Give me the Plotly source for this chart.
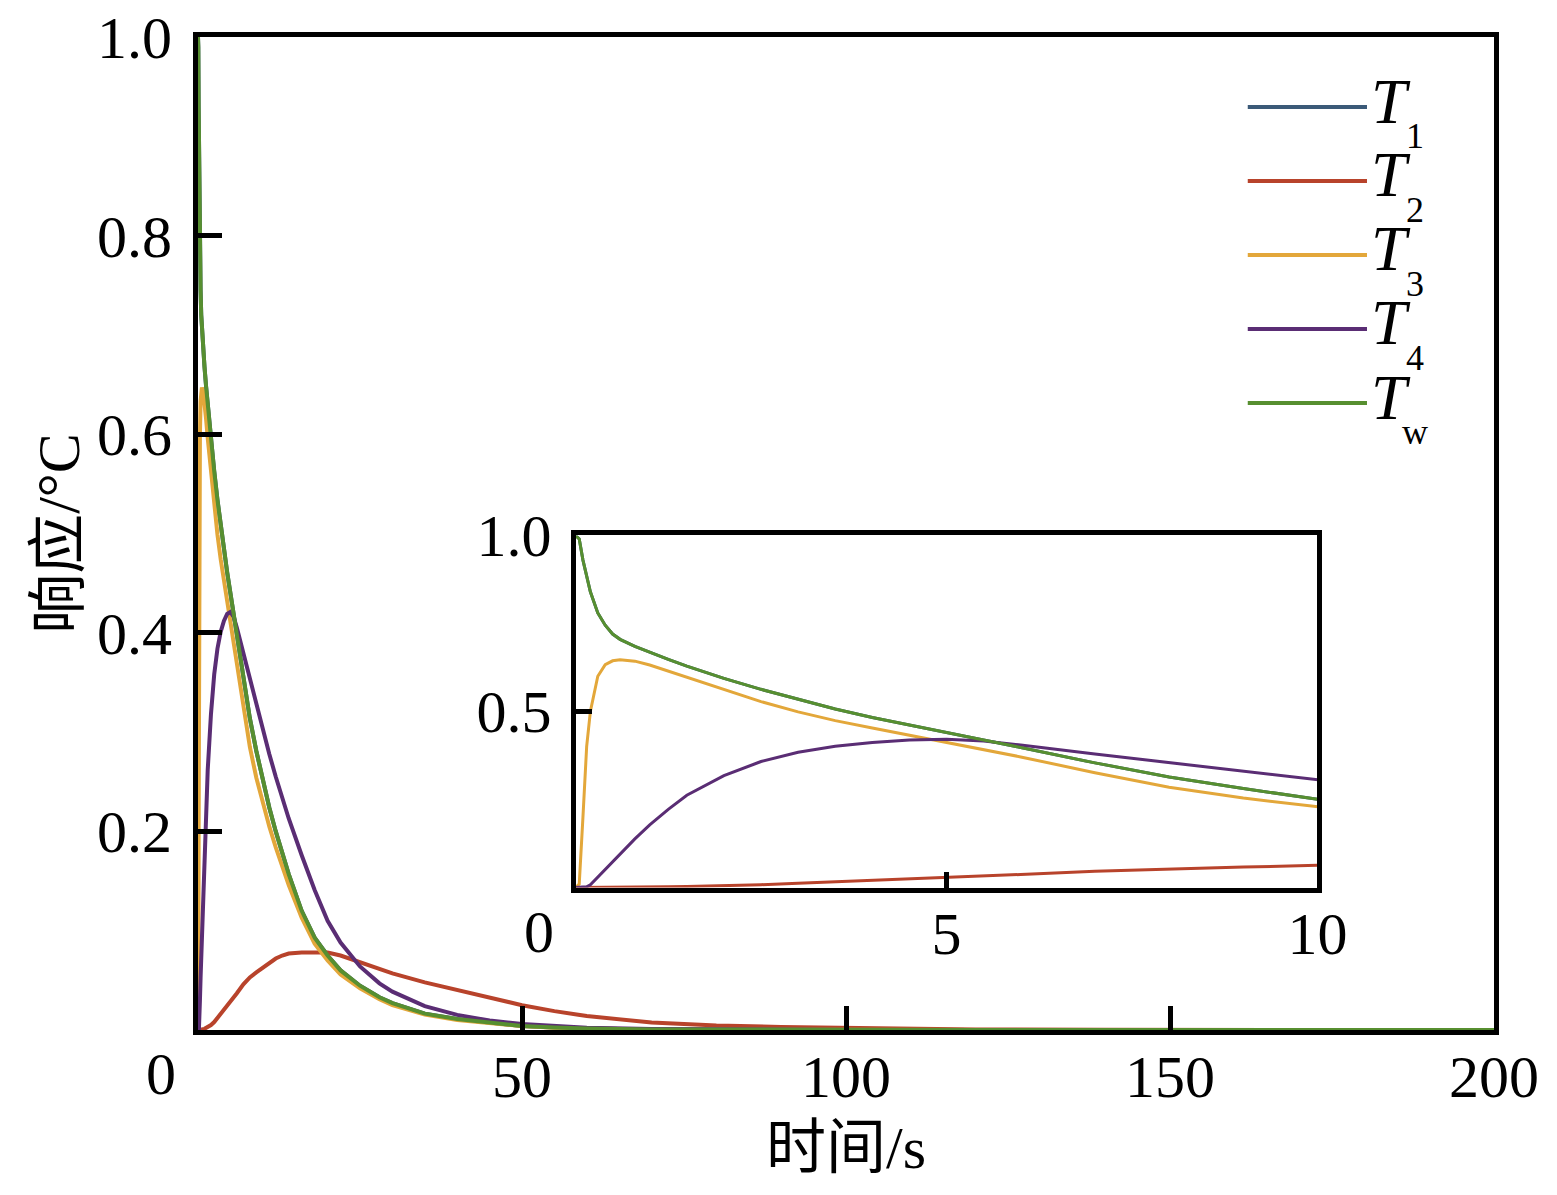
import plotly.graph_objects as go

# --- DONNEES ---
t = [0, 0.05, 0.1, 0.15, 0.2, 0.3, 0.4, 0.5, 0.6, 0.8,
     1.0, 1.25, 1.5, 2.0, 2.5, 3.0, 3.5, 4.0, 4.5, 5.0,
     5.5, 6.0, 7.0, 8.0, 9.0, 10, 11, 12, 13, 14,
     16, 18, 20, 22, 25, 28, 30, 35, 40, 45,
     50, 55, 60, 70, 80, 90, 100, 110, 120, 140,
     160, 180, 200]

Tw = [1.0, 0.99, 0.93, 0.88, 0.84, 0.78, 0.745, 0.72, 0.705, 0.685,
      0.668, 0.648, 0.629, 0.594, 0.563, 0.534, 0.507, 0.483, 0.461, 0.44,
      0.419, 0.398, 0.354, 0.314, 0.281, 0.251, 0.224, 0.2, 0.177, 0.157,
      0.12, 0.093, 0.075, 0.06, 0.0446, 0.033, 0.027, 0.0165, 0.011, 0.007,
      0.004, 0.0025, 0.0015, 0.0006, 0.0003, 0.0001, 0, 0, 0, 0,
      0, 0, 0]

# T1 n'est pas visible : il est confondu avec Tw
T1 = list(Tw)

T2 = [0, 0, 0, 0, 0, 0, 0, 0, 0.0003, 0.0007,
      0.0012, 0.002, 0.003, 0.005, 0.008, 0.012, 0.016, 0.02, 0.024, 0.028,
      0.033, 0.037, 0.046, 0.053, 0.058, 0.063, 0.068, 0.072, 0.075, 0.077,
      0.078, 0.0785, 0.078, 0.075, 0.068, 0.062, 0.057, 0.048, 0.04, 0.033,
      0.025, 0.019, 0.014, 0.0075, 0.0045, 0.003, 0.002, 0.001, 0.0005, 0.0002,
      0.0001, 0, 0]

T3 = [0, 0.01, 0.2, 0.4, 0.5, 0.6, 0.633, 0.644, 0.647, 0.643,
      0.632, 0.615, 0.596, 0.562, 0.528, 0.499, 0.474, 0.453, 0.433, 0.413,
      0.392, 0.371, 0.326, 0.285, 0.254, 0.228, 0.205, 0.184, 0.164, 0.146,
      0.113, 0.087, 0.07, 0.056, 0.042, 0.031, 0.025, 0.0155, 0.01, 0.0065,
      0.004, 0.0023, 0.0014, 0.0005, 0.0002, 0.0001, 0, 0, 0, 0,
      0, 0, 0]

T4 = [0, 0, 0, 0.002, 0.008, 0.03, 0.053, 0.075, 0.097, 0.138,
      0.178, 0.222, 0.262, 0.318, 0.358, 0.384, 0.401, 0.412, 0.419, 0.421,
      0.416, 0.405, 0.379, 0.354, 0.329, 0.302, 0.278, 0.255, 0.234, 0.213,
      0.176, 0.141, 0.11, 0.088, 0.064, 0.047, 0.0386, 0.024, 0.0152, 0.0095,
      0.006, 0.0037, 0.0023, 0.0009, 0.0004, 0.0002, 0.0001, 0, 0, 0,
      0, 0, 0]

series = [("1", T1, "#3b5a78"),
          ("2", T2, "#b8432b"),
          ("3", T3, "#e3a73a"),
          ("4", T4, "#5a2d74"),
          ("w", Tw, "#578f30")]

main_xticks = [50, 100, 150, 200]
main_yticks = [0.2, 0.4, 0.6, 0.8, 1.0]
inset_xticks = [5, 10]
inset_yticks = [0.5, 1.0]

FONT = "Liberation Serif, Noto Sans CJK SC"


def main():
    fig = go.Figure()

    # courbes principales puis encart (memes donnees)
    for sub, vals, col in series:
        fig.add_trace(go.Scatter(x=t, y=vals, mode="lines",
                                 line=dict(color=col, width=4),
                                 name="T" + sub, showlegend=False,
                                 xaxis="x", yaxis="y"))
    for sub, vals, col in series:
        fig.add_trace(go.Scatter(x=t, y=vals, mode="lines",
                                 line=dict(color=col, width=3),
                                 name="T" + sub, showlegend=False,
                                 xaxis="x2", yaxis="y2"))

    axis_common = dict(showline=True, linecolor="black", linewidth=5, mirror=True,
                       ticks="inside", tickcolor="black", tickwidth=5,
                       showgrid=False, zeroline=False, automargin=False,
                       ticklabeloverflow="allow",
                       tickfont=dict(family=FONT, size=60, color="black"))

    # la page a une marge de 8 px : figure de 1541x1179 decalee de 8 px
    fig.update_layout(
        width=1541, height=1179,
        margin=dict(l=190, r=55, t=29, b=157),
        paper_bgcolor="white", plot_bgcolor="white",
        xaxis=dict(axis_common, range=[0, 200], tickvals=main_xticks, ticklen=24,
                   ticklabelstandoff=-10,
                   title=dict(text="时间/s", font=dict(family=FONT, size=60, color="black"),
                              standoff=18)),
        yaxis=dict(axis_common, range=[0, 1], tickvals=main_yticks, ticklen=24,
                   tickformat=".1f", ticklabelstandoff=9,
                   title=dict(text="响应/°C", font=dict(family=FONT, size=60, color="black"),
                              standoff=0)),
        xaxis2=dict(axis_common, range=[0, 10], tickvals=inset_xticks, ticklen=16,
                    ticklabelstandoff=-11,
                    domain=[0.2913, 0.8638], anchor="y2"),
        yaxis2=dict(axis_common, range=[0, 1], tickvals=inset_yticks, ticklen=16,
                    tickformat=".1f", ticklabelstandoff=7,
                    domain=[0.1435, 0.498], anchor="x2"),
    )

    # origine "0" decalee a gauche (principal et encart)
    for xr, yr in (("x", "y"), ("x2", "y2")):
        fig.add_annotation(x=0, y=0, xref=xr, yref=yr, text="0", showarrow=False,
                           xanchor="center", yanchor="middle", xshift=-37, yshift=-44,
                           font=dict(family=FONT, size=60, color="black"))

    # legende dessinee a la main (ligne longue + T italique + indice)
    leg_y = [0.9295, 0.855, 0.7805, 0.706, 0.6314]
    for (sub, vals, col), yy in zip(series, leg_y):
        fig.add_shape(type="line", xref="paper", yref="paper",
                      x0=0.810, x1=0.902, y0=yy, y1=yy,
                      line=dict(color=col, width=4))
        fig.add_annotation(x=0.9035, y=yy, xref="paper", yref="paper", text="<i>T</i>",
                           showarrow=False, xanchor="left", yanchor="middle", yshift=6,
                           font=dict(family=FONT, size=64, color="black"))
        fig.add_annotation(x=0.939, y=yy, xref="paper", yref="paper", text=sub,
                           showarrow=False, xanchor="center", yanchor="middle", yshift=-29,
                           font=dict(family=FONT, size=36, color="black"))

    fig.write_html("out.html")


if __name__ == "__main__":
    main()
